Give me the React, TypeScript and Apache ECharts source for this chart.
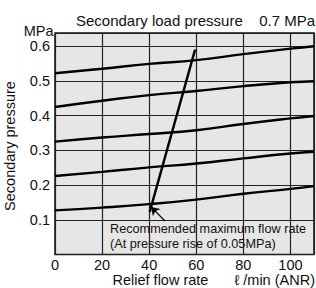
import React, { useEffect, useRef } from "react";
import * as echarts from "echarts";

// Flow rate sample points (ℓ/min ANR)
const flowRates = [0, 20, 40, 60, 80, 100, 110];
// Secondary pressure curves (MPa), one per set pressure
const curveA = [0.522, 0.535, 0.549, 0.56, 0.577, 0.593, 0.6];
const curveB = [0.425, 0.443, 0.459, 0.471, 0.485, 0.496, 0.499];
const curveC = [0.325, 0.337, 0.347, 0.358, 0.376, 0.392, 0.399];
const curveD = [0.226, 0.238, 0.251, 0.262, 0.277, 0.291, 0.296];
const curveE = [0.127, 0.135, 0.145, 0.158, 0.175, 0.189, 0.197];
const curves = [curveA, curveB, curveC, curveD, curveE];

// Recommended maximum flow rate line
const maxFlowX = [40.2, 59.5];
const maxFlowY = [0.122, 0.59];
// Annotation arrow (from text to line)
const arrowFrom = [46.7, 0.0965];
const arrowTo = [40.8, 0.137];

const xTicks = [0, 20, 40, 60, 80, 100];
const yTicks = [0.1, 0.2, 0.3, 0.4, 0.5, 0.6];

const titleText = "Secondary load pressure";
const titleValue = "0.7 MPa";
const yUnit = "MPa";
const yName = "Secondary pressure";
const xName = "Relief flow rate";
const xUnit = "ℓ /min (ANR)";
const noteText = "Recommended maximum flow rate\n(At pressure rise of 0.05MPa)";

const FONT = '"Liberation Sans", Arial, Helvetica, sans-serif';

export default function App() {
  const ref = useRef<HTMLDivElement>(null);
  useEffect(() => {
    if (!ref.current) return;
    const chart = echarts.init(ref.current, undefined, { renderer: "svg" });
    const lineSeries = curves.map((c) => ({
      type: "line",
      data: flowRates.map((x, i) => [x, c[i]]),
      symbol: "none",
      smooth: 0.5,
      silent: true,
      lineStyle: { color: "#000", width: 2.4 },
    }));
    chart.setOption({
      animation: false,
      backgroundColor: "#fff",
      title: [
        {
          text: titleText,
          left: 76,
          top: 12.5,
          padding: 0,
          textStyle: { fontSize: 15, fontWeight: "normal", color: "#111", fontFamily: FONT },
        },
        {
          text: titleValue,
          right: 1,
          top: 12.5,
          padding: 0,
          textStyle: { fontSize: 15, fontWeight: "normal", color: "#111", fontFamily: FONT },
        },
      ],
      grid: {
        left: 55,
        right: 2,
        top: 33,
        bottom: 33.5,
        show: true,
        backgroundColor: "#e6e6e6",
        borderColor: "#111",
        borderWidth: 1.5,
        containLabel: false,
      },
      xAxis: {
        type: "value",
        min: 0,
        max: 110,
        interval: 20,
        axisLine: { show: false },
        axisTick: { show: false },
        splitLine: { show: true, lineStyle: { color: "#222", width: 1.2 } },
        axisLabel: {
          margin: 3,
          fontSize: 14.5,
          color: "#111",
          fontFamily: FONT,
          showMaxLabel: false,
          formatter: (v: number) => (xTicks.includes(Math.round(v)) && Math.abs(v - Math.round(v)) < 1e-6 ? String(Math.round(v)) : ""),
        },
      },
      yAxis: {
        type: "value",
        min: 0,
        max: 0.638,
        interval: 0.1,
        axisLine: { show: false },
        axisTick: { show: false },
        splitLine: { show: true, lineStyle: { color: "#222", width: 1.2 } },
        axisLabel: {
          margin: 5,
          fontSize: 14.5,
          color: "#111",
          fontFamily: FONT,
          showMaxLabel: false,
          formatter: (v: number) => {
            const t = yTicks.find((y) => Math.abs(y - v) < 1e-6);
            return t === undefined ? "" : t.toFixed(1);
          },
        },
      },
      series: [
        ...lineSeries,
        {
          type: "line",
          data: maxFlowX.map((x, i) => [x, maxFlowY[i]]),
          symbol: "none",
          silent: true,
          lineStyle: { color: "#000", width: 2.4 },
          markLine: {
            silent: true,
            symbol: ["none", "arrow"],
            symbolSize: 8,
            label: { show: false },
            lineStyle: { color: "#000", width: 1.2, type: "solid" },
            data: [[{ coord: arrowFrom }, { coord: arrowTo }]],
          },
        },
      ],
      graphic: [
        {
          type: "text",
          x: 53.5,
          y: 31,
          style: { text: yUnit, align: "right", verticalAlign: "middle", font: `14.5px ${FONT}`, fill: "#111" },
        },
        {
          type: "text",
          x: 10,
          y: 146,
          rotation: Math.PI / 2,
          style: { text: yName, align: "center", verticalAlign: "middle", font: `14.5px ${FONT}`, fill: "#111" },
        },
        {
          type: "text",
          x: 112.5,
          y: 279.5,
          style: { text: xName, align: "left", verticalAlign: "middle", font: `14.5px ${FONT}`, fill: "#111" },
        },
        {
          type: "text",
          x: 315,
          y: 279.5,
          style: { text: xUnit, align: "right", verticalAlign: "middle", font: `14.5px ${FONT}`, fill: "#111" },
        },
        {
          type: "text",
          x: 110,
          y: 222,
          style: {
            text: noteText,
            align: "left",
            verticalAlign: "top",
            lineHeight: 14.5,
            font: `12.7px ${FONT}`,
            fill: "#111",
          },
        },
      ],
    });
    return () => chart.dispose();
  }, []);
  return <div ref={ref} style={{ position: "fixed", left: 0, top: 0, width: 316, height: 288 }} />;
}
